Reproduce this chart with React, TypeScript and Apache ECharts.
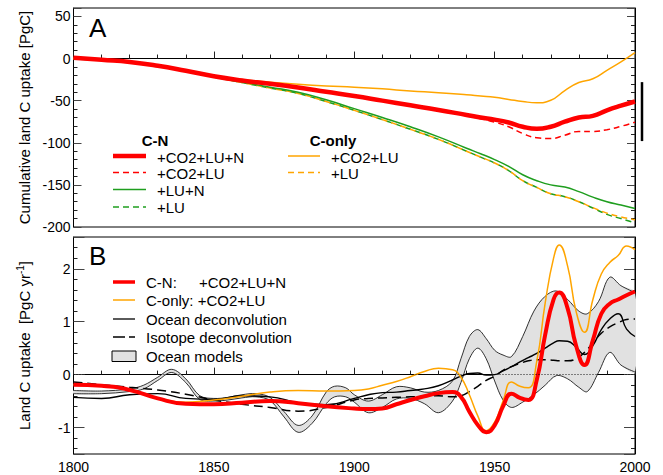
import React, { useEffect, useRef } from "react";
import * as echarts from "echarts";

const FONT = '"Liberation Sans", Arial, Helvetica, sans-serif';
const RED = "#ff0000";
const ORANGE = "#ffa500";
const GREEN = "#1f9e1f";

// ---------- Panel A: cumulative land C uptake [PgC] ----------
const yearsA = [1800, 1810, 1820, 1830, 1840, 1850, 1860, 1870, 1880, 1890, 1900, 1910, 1920, 1930, 1940, 1945, 1950, 1955, 1960, 1965, 1970, 1975, 1980, 1985, 1990, 1995, 2000];
const cnFullA = [1, -1.5, -4, -8.5, -14.5, -21, -26, -30, -34.5, -39.5, -44.5, -50, -55.5, -61, -67, -70, -72.5, -76, -81, -83.5, -81, -75, -70, -68, -61.5, -56, -51];
const cnCo2LuA = [1, -1.5, -4, -8.5, -14.5, -21, -26, -30, -34.5, -39.5, -44.5, -50, -55.5, -61, -68, -71.5, -75.5, -81, -89, -94, -95, -91, -86.5, -86.5, -84.5, -80.5, -75.5];
const cnLuNA = [-0.5, -2, -4.5, -9, -15, -21.5, -28, -34, -40, -49, -59.5, -70, -81, -93, -106.5, -113, -120, -128, -138, -145, -150, -152.5, -158, -164.5, -170, -174, -178];
const cnLuA = [-0.5, -2, -4.5, -9, -15, -22, -28.5, -35, -41.5, -51, -61.5, -72.5, -84, -96, -110, -117, -124, -133, -145, -153, -160.5, -164, -170, -177.5, -185, -190, -195];
const coCo2LuA = [0.5, -1.5, -4, -8.5, -14.5, -21, -25, -28, -30.5, -32.5, -34, -36, -38.5, -40.5, -43, -44.5, -46, -48.5, -51, -52.5, -49.5, -38, -28.5, -24, -14, -4, 7];
const coLuA = [-0.5, -2, -4.5, -9, -15, -22, -28.5, -35, -41.5, -51, -61.5, -72.5, -84, -96, -110, -117, -124, -133, -145, -153, -160.5, -164, -170, -177, -183.5, -188, -191.5];
const errorBarA = [-28, -98];
const ticksA = { min: -200, max: 60, interval: 50 };

// ---------- Panel B: land C uptake [PgC/yr] ----------
const yearsB = [1800, 1810, 1820, 1830, 1840, 1850, 1860, 1870, 1880, 1890, 1900, 1905, 1910, 1915, 1920, 1925, 1930, 1935, 1938, 1941, 1944, 1947, 1950, 1953, 1956, 1959, 1962, 1965, 1968, 1971, 1973, 1976, 1979, 1982, 1985, 1988, 1991, 1994, 1997, 2000];
const cnB = [-0.19, -0.21, -0.29, -0.45, -0.55, -0.56, -0.53, -0.5, -0.54, -0.6, -0.64, -0.65, -0.64, -0.56, -0.48, -0.41, -0.35, -0.33, -0.42, -0.7, -0.95, -1.09, -0.96, -0.6, -0.36, -0.44, -0.48, -0.1, 0.75, 1.42, 1.55, 1.25, 0.55, 0.18, 0.65, 1.15, 1.34, 1.42, 1.5, 1.57];
const coB = [-0.19, -0.21, -0.29, -0.44, -0.52, -0.48, -0.41, -0.33, -0.3, -0.31, -0.3, -0.27, -0.2, -0.13, -0.04, 0.06, 0.12, 0.09, -0.05, -0.38, -0.78, -1.06, -0.9, -0.5, -0.14, -0.22, -0.25, 0.25, 1.35, 2.2, 2.45, 2.05, 1.2, 0.8, 1.42, 1.9, 2.12, 2.25, 2.43, 2.36];
const oceanDecB = [-0.43, -0.45, -0.38, -0.36, -0.45, -0.47, -0.4, -0.42, -0.53, -0.57, -0.45, -0.38, -0.34, -0.33, -0.3, -0.27, -0.21, -0.1, -0.03, 0.02, 0.03, -0.01, 0.0, 0.07, 0.15, 0.24, 0.32, 0.4, 0.5, 0.6, 0.64, 0.63, 0.52, 0.38, 0.55, 0.85, 1.05, 1.15, 0.86, 0.72];
const isoDecB = [-0.14, -0.19, -0.24, -0.29, -0.37, -0.48, -0.56, -0.62, -0.69, -0.62, -0.48, -0.45, -0.44, -0.43, -0.42, -0.41, -0.4, -0.42, -0.4, -0.32, -0.22, -0.11, -0.03, 0.08, 0.15, 0.21, 0.26, 0.28, 0.28, 0.27, 0.26, 0.26, 0.3, 0.42, 0.6, 0.78, 0.9, 0.98, 1.04, 1.05];

const yearsBand = [1800, 1810, 1820, 1825, 1830, 1835, 1840, 1845, 1850, 1855, 1860, 1865, 1870, 1875, 1880, 1885, 1890, 1893, 1897, 1900, 1905, 1910, 1915, 1920, 1925, 1930, 1935, 1938, 1941, 1944, 1947, 1950, 1953, 1956, 1960, 1964, 1968, 1972, 1976, 1980, 1983, 1987, 1991, 1995, 2000];
const bandUpper = [-0.3, -0.31, -0.27, -0.2, -0.05, 0.1, -0.08, -0.4, -0.45, -0.43, -0.38, -0.36, -0.43, -0.7, -0.96, -0.78, -0.33, -0.22, -0.25, -0.38, -0.5, -0.38, -0.23, -0.25, -0.33, -0.3, -0.12, 0.3, 0.72, 0.85, 0.68, 0.46, 0.37, 0.34, 0.72, 1.2, 1.48, 1.58, 1.42, 1.2, 1.15, 1.38, 1.84, 1.68, 1.55];
const bandLower = [-0.36, -0.36, -0.32, -0.27, -0.11, 0.04, -0.15, -0.47, -0.5, -0.48, -0.44, -0.42, -0.49, -0.8, -1.09, -0.92, -0.55, -0.42, -0.42, -0.52, -0.72, -0.62, -0.46, -0.45, -0.55, -0.72, -0.5, -0.15, 0.3, 0.5, 0.3, -0.12, -0.48, -0.62, -0.52, -0.38, -0.2, -0.02, -0.08, -0.24, -0.32, 0.04, 0.42, 0.18, 0.05];
const rangeB = { min: -1.5, max: 2.6 };

const xTicks = { min: 1800, max: 2000, interval: 50 };

function pairs(xs: number[], ys: number[]) {
  return xs.map((x, i) => [x, ys[i]]);
}

export default function App() {
  const ref = useRef<HTMLDivElement>(null);
  useEffect(() => {
    const chart = echarts.init(ref.current!, null, { renderer: "svg" });

    const line = (name: string, xi: number, yi: number, xs: number[], ys: number[], color: string, width: number, dash?: any, extra?: any) => ({
      type: "line",
      name,
      xAxisIndex: xi,
      yAxisIndex: yi,
      data: pairs(xs, ys),
      symbol: "none",
      showSymbol: false,
      smooth: 0.5,
      silent: true,
      lineStyle: { color, width, type: dash ?? "solid", cap: "butt" },
      ...(extra || {}),
    });

    const xAxisBase = (gridIndex: number, showLabel: boolean) => ({
      type: "value",
      gridIndex,
      min: xTicks.min,
      max: xTicks.max,
      interval: xTicks.interval,
      axisLine: { show: true, lineStyle: { color: "#000", width: 1 } },
      axisTick: { show: true, inside: true, length: 7, lineStyle: { color: "#222" } },
      minorTick: { show: true, splitNumber: 5, length: 4, lineStyle: { color: "#222" } },
      splitLine: { show: false },
      minorSplitLine: { show: false },
      axisLabel: { show: showLabel, color: "#000", fontSize: 14, fontFamily: FONT, margin: 6, formatter: (v: number) => String(v) },
    });

    const yAxisBase = (gridIndex: number, position: string, showLabel: boolean, majorLen: number, extra: any) => ({
      type: "value",
      gridIndex,
      position,
      axisLine: { show: true, onZero: false, lineStyle: { color: "#000", width: 1 } },
      axisTick: { show: true, inside: true, length: majorLen, lineStyle: { color: "#444" } },
      minorTick: { show: true, splitNumber: 5, length: 4, lineStyle: { color: "#222" } },
      splitLine: { show: false },
      minorSplitLine: { show: false },
      axisLabel: { show: showLabel, color: "#000", fontSize: 14, fontFamily: FONT, margin: 3, showMaxLabel: false, showMinLabel: gridIndex === 0 },
      ...extra,
    });

    const bandSeries = {
      type: "custom",
      name: "Ocean models",
      xAxisIndex: 1,
      yAxisIndex: 2,
      silent: true,
      clip: true,
      data: yearsBand.map((y, i) => [y, bandLower[i], bandUpper[i]]),
      encode: { x: 0, y: [1, 2] },
      renderItem: (params: any, api: any) => {
        if (params.dataIndex !== 0) return null;
        const up = yearsBand.map((y, i) => api.coord([y, bandUpper[i]]));
        const lo = yearsBand.map((y, i) => api.coord([y, bandLower[i]]));
        return {
          type: "group",
          children: [
            { type: "polygon", shape: { points: up.concat(lo.slice().reverse()), smooth: 0.35 }, style: { fill: "#e1e1e1", stroke: null } },
            { type: "polyline", shape: { points: up, smooth: 0.35 }, style: { stroke: "#000", lineWidth: 0.8, fill: null } },
            { type: "polyline", shape: { points: lo, smooth: 0.35 }, style: { stroke: "#000", lineWidth: 0.8, fill: null } },
          ],
        };
      },
    };

    const option: any = {
      animation: false,
      textStyle: { fontFamily: FONT },
      grid: [
        { left: 73.5, right: 28, top: 8, height: 219, show: true, borderColor: "#000", borderWidth: 1, backgroundColor: "transparent" },
        { left: 73.5, right: 28, top: 237, height: 217, show: true, borderColor: "#000", borderWidth: 1, backgroundColor: "transparent" },
      ],
      xAxis: [xAxisBase(0, false), xAxisBase(1, true)],
      yAxis: [
        yAxisBase(0, "left", true, 8, {
          min: ticksA.min, max: ticksA.max, interval: ticksA.interval,
          name: "Cumulative land C uptake [PgC]",
          nameLocation: "middle",
          nameGap: 41,
          nameTextStyle: { fontSize: 15, color: "#000", fontFamily: FONT },
        }),
        yAxisBase(0, "right", false, 8, { min: ticksA.min, max: ticksA.max, interval: ticksA.interval }),
        yAxisBase(1, "left", true, 11, {
          min: rangeB.min, max: rangeB.max, splitNumber: 4,
          name: "{a|Land C uptake  [PgC yr}{s|-1}{a|]}",
          nameLocation: "middle",
          nameGap: 40,
          nameTextStyle: {
            color: "#000",
            fontFamily: FONT,
            rich: {
              a: { fontSize: 15, fontFamily: FONT, color: "#000", lineHeight: 18 },
              s: { fontSize: 10, fontFamily: FONT, color: "#000", verticalAlign: "top", lineHeight: 18, padding: [0, 0, 6, 0] },
            },
          },
        }),
        yAxisBase(1, "right", false, 11, { min: rangeB.min, max: rangeB.max, splitNumber: 4 }),
      ],
      series: [
        // Panel A
        line("C-N +LU", 0, 0, yearsA, cnLuA, GREEN, 1.5, [6, 4]),
        line("C-only +LU", 0, 0, yearsA, coLuA, ORANGE, 1.5, [6, 4], { lineStyle: { color: ORANGE, width: 1.5, type: [6, 4], dashOffset: 5 } }),
        line("C-N +LU+N", 0, 0, yearsA, cnLuNA, GREEN, 1.5),
        line("C-only +CO2+LU", 0, 0, yearsA, coCo2LuA, ORANGE, 1.5),
        line("C-N +CO2+LU", 0, 0, yearsA, cnCo2LuA, RED, 1.5, [6, 4]),
        line("C-N +CO2+LU+N", 0, 0, yearsA, cnFullA, RED, 4.5),
        // Panel B
        bandSeries,
        line("Isotope deconvolution", 1, 2, yearsB, isoDecB, "#000", 1.5, [9, 5]),
        line("Ocean deconvolution", 1, 2, yearsB, oceanDecB, "#000", 1.4, "solid", {
          markLine: {
            silent: true, symbol: "none", label: { show: false },
            lineStyle: { color: "#000", type: [1, 2], width: 0.9 },
            data: [{ yAxis: 0 }],
          },
        }),
        line("C-only: +CO2+LU", 1, 2, yearsB, coB, ORANGE, 1.5),
        line("C-N: +CO2+LU+N", 1, 2, yearsB, cnB, RED, 4),
      ],
    };

    chart.setOption(option);

    const txt = (x: number, y: number, text: string, size = 15, weight = "normal", align = "left") => ({
      type: "text", x, y, silent: true,
      style: { text, fontSize: size, fontFamily: FONT, fontWeight: weight, fill: "#000", align, verticalAlign: "middle" },
    });
    const seg = (x1: number, x2: number, y: number, color: string, width: number, dash?: number[]) => ({
      type: "line", silent: true,
      shape: { x1, y1: y, x2, y2: y },
      style: { stroke: color, lineWidth: width, lineDash: dash || null },
    });

    const ebTop = chart.convertToPixel({ yAxisIndex: 0 } as any, errorBarA[0]) as number;
    const ebBot = chart.convertToPixel({ yAxisIndex: 0 } as any, errorBarA[1]) as number;

    const graphics: any[] = [
      txt(89, 28, "A", 26),
      txt(89, 256, "B", 26),
      // Legend A: C-N
      txt(155, 140, "C-N", 15, "bold", "center"),
      seg(113, 146, 156, RED, 4.5),
      txt(157, 157, "+CO2+LU+N"),
      seg(113, 146, 172.5, RED, 1.5, [6, 4]),
      txt(157, 173, "+CO2+LU"),
      seg(113, 146, 189.5, GREEN, 1.5),
      txt(157, 190, "+LU+N"),
      seg(113, 146, 207, GREEN, 1.5, [6, 4]),
      txt(157, 207, "+LU"),
      // Legend A: C-only
      txt(333, 140, "C-only", 15, "bold", "center"),
      seg(288, 320, 156, ORANGE, 1.5),
      txt(331, 157, "+CO2+LU"),
      seg(288, 320, 172.5, ORANGE, 1.5, [6, 4]),
      txt(331, 173, "+LU"),
      // error bar
      { type: "line", silent: true, shape: { x1: 642, y1: ebTop, x2: 642, y2: ebBot }, style: { stroke: "#000", lineWidth: 2.5 } },
      // Legend B
      seg(113, 135, 282, RED, 3.5),
      txt(146, 282, "C-N:"),
      txt(199, 282, "+CO2+LU+N"),
      seg(113, 135, 300, ORANGE, 1.5),
      txt(146, 300, "C-only: +CO2+LU"),
      seg(113, 135, 319, "#000", 1.3),
      txt(146, 319, "Ocean deconvolution"),
      seg(113, 135, 337, "#000", 1.3, [12, 4]),
      txt(146, 337, "Isotope deconvolution"),
      { type: "rect", silent: true, shape: { x: 112, y: 351, width: 24, height: 10.5 }, style: { fill: "#e1e1e1", stroke: "#000", lineWidth: 1 } },
      txt(146, 356, "Ocean models"),
    ];
    chart.setOption({ graphic: { elements: graphics } });

    return () => chart.dispose();
  }, []);
  return <div ref={ref} style={{ position: "absolute", left: 0, top: 0, width: 663, height: 475 }} />;
}
